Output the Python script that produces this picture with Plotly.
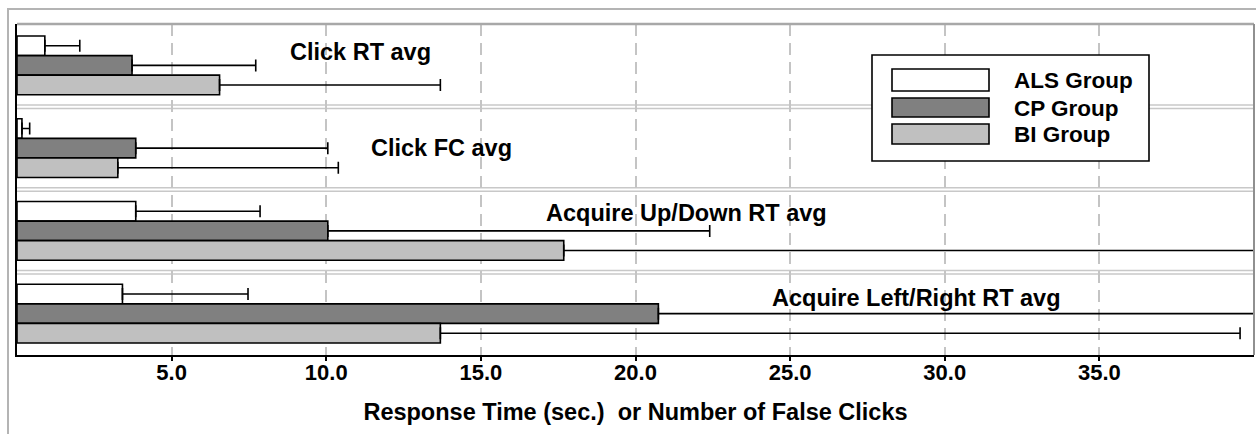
import plotly.graph_objects as go

# ---------------- data ----------------
categories = ["Click RT avg", "Click FC avg", "Acquire Up/Down RT avg", "Acquire Left/Right RT avg"]
groups = ["ALS Group", "CP Group", "BI Group"]
als_mean = [0.90, 0.16, 3.84, 3.41]
als_err = [1.13, 0.25, 4.02, 4.06]
cp_mean = [3.72, 3.84, 10.05, 20.74]
cp_err = [4.00, 6.21, 12.35, 21.50]
bi_mean = [6.55, 3.26, 17.68, 13.69]
bi_err = [7.14, 7.13, 24.00, 25.86]
x_tick_vals = [5, 10, 15, 20, 25, 30, 35]
x_tick_text = ["5.0", "10.0", "15.0", "20.0", "25.0", "30.0", "35.0"]
x_title = "Response Time (sec.)\u00a0 or Number of False Clicks"

# ---------------- style ----------------
colors = ["#ffffff", "#808080", "#c0c0c0"]
FONT = "Arial, 'Liberation Sans', sans-serif"
W, H = 1256, 434
ML, MR, MT, MB = 17, 2, 24, 79
PW, PH = W - ML - MR, H - MT - MB


def px_x(px):
    return (px - ML) / PW


def px_y(py):
    return (H - MB - py) / PH


def bold(size):
    return dict(family=FONT, size=size, color="#000000", weight="bold")


fig = go.Figure()
for name, mean, err, col in zip(groups, [als_mean, cp_mean, bi_mean],
                                [als_err, cp_err, bi_err], colors):
    fig.add_trace(go.Bar(
        name=name, y=categories, x=mean, orientation="h",
        marker=dict(color=col, line=dict(color="#000000", width=1.6)),
        error_x=dict(type="data", array=err, arrayminus=[0] * len(err),
                     symmetric=False, color="#000000", thickness=1.6, width=6),
        showlegend=False,
    ))

shapes = []
# outer light frame
shapes.append(dict(type="rect", xref="paper", yref="paper",
                   x0=px_x(8), x1=px_x(1300), y0=px_y(9), y1=px_y(480),
                   line=dict(color="#b4b4b4", width=2), fillcolor="rgba(0,0,0,0)",
                   layer="below"))
# top & right border of plot area
shapes.append(dict(type="line", xref="paper", yref="paper", x0=0, x1=1, y0=1, y1=1,
                   line=dict(color="#a8a8a8", width=2.5)))
shapes.append(dict(type="line", xref="paper", yref="paper", x0=1, x1=1, y0=0, y1=1,
                   line=dict(color="#909090", width=2)))
# double separator lines between categories
for k in range(len(categories) - 1):
    b = k + 0.5
    for d in (-0.02, 0.02):
        shapes.append(dict(type="line", xref="paper", yref="y", x0=0, x1=1,
                           y0=b + d, y1=b + d,
                           line=dict(color="#c8c8c8", width=1.5), layer="below"))

# manual legend
shapes.append(dict(type="rect", xref="paper", yref="paper",
                   x0=px_x(872), x1=px_x(1149), y0=px_y(161), y1=px_y(55),
                   line=dict(color="#000000", width=1.6), fillcolor="#ffffff",
                   layer="above"))
sw_rows = [(69, 91), (98, 117), (124, 144)]
annotations = []
for (ya, yb), col, name in zip(sw_rows, colors, groups):
    shapes.append(dict(type="rect", xref="paper", yref="paper",
                       x0=px_x(892), x1=px_x(989), y0=px_y(yb), y1=px_y(ya),
                       line=dict(color="#000000", width=1.6), fillcolor=col,
                       layer="above"))
    annotations.append(dict(text=name, xref="paper", yref="paper",
                            x=px_x(1012), y=px_y((ya + yb) / 2 + 0.5),
                            xanchor="left", yanchor="middle", showarrow=False,
                            font=bold(22.5)))

# category labels inside plot
label_pos = [(11.1, -0.16), (13.73, 1.0), (21.65, 1.78), (29.1, 2.81)]
for cat, (lx, ly) in zip(categories, label_pos):
    annotations.append(dict(text=cat, x=lx, y=ly, xref="x", yref="y",
                            xanchor="center", yanchor="middle", showarrow=False,
                            font=bold(23.5)))

fig.update_layout(
    width=W, height=H,
    margin=dict(l=ML, r=MR, t=MT, b=MB, pad=0),
    paper_bgcolor="#ffffff", plot_bgcolor="#ffffff",
    barmode="group", bargap=0.29, bargroupgap=0,
    shapes=shapes, annotations=annotations,
    showlegend=False,
    xaxis=dict(range=[0, 40], tickvals=x_tick_vals, ticktext=x_tick_text,
               showgrid=True, gridcolor="#c4c4c4", gridwidth=2, griddash="12px,7px",
               zeroline=False, showline=True, linecolor="#000000", linewidth=2,
               ticks="outside", ticklen=4, tickcolor="#000000", tickwidth=1.5,
               ticklabelstandoff=-7,
               tickfont=bold(22),
               title=dict(text=x_title, standoff=19, font=bold(23.5)),
               fixedrange=True),
    yaxis=dict(type="category", categoryorder="array", categoryarray=categories,
               range=[3.5, -0.5], showticklabels=False, showgrid=False,
               zeroline=False, showline=True, linecolor="#000000", linewidth=2,
               ticks="", fixedrange=True),
)

fig.write_html("out.html")
